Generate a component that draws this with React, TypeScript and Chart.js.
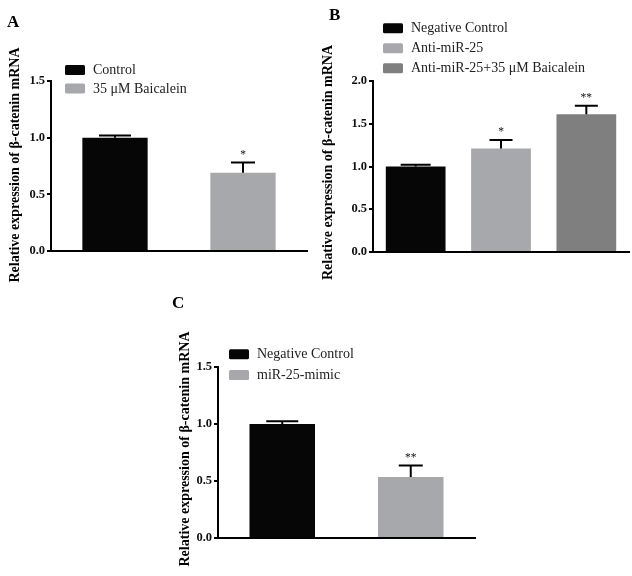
import React, { useEffect, useRef } from "react";
import { Chart, registerables } from "chart.js";
Chart.register(...registerables);

// ---------- data ----------
const panelALabels = ["Control", "35 μM Baicalein"];
const panelAValues = [1.0, 0.69];
const panelAErrors = [0.02, 0.09];
const panelAStars = ["", "*"];
const panelATicks = [0, 0.5, 1.0, 1.5];

const panelBLabels = ["Negative Control", "Anti-miR-25", "Anti-miR-25+35 μM Baicalein"];
const panelBValues = [1.0, 1.21, 1.61];
const panelBErrors = [0.02, 0.1, 0.1];
const panelBStars = ["", "*", "**"];
const panelBTicks = [0, 0.5, 1.0, 1.5, 2.0];

const panelCLabels = ["Negative Control", "miR-25-mimic"];
const panelCValues = [1.0, 0.535];
const panelCErrors = [0.025, 0.1];
const panelCStars = ["", "**"];
const panelCTicks = [0, 0.5, 1.0, 1.5];

const yAxisTitle = "Relative expression of β-catenin mRNA";

// ---------- style ----------
const BLACK = "#060606";
const LIGHT = "#A7A8AB";
const DARK = "#7F7F80";
const SERIF = "'Liberation Serif', 'Times New Roman', serif";

type Panel = {
  letter: string;
  labels: string[];
  values: number[];
  errors: number[];
  stars: string[];
  ticks: number[];
  colors: string[];
  capWidths: number[];
  box: { left: number; top: number; width: number; height: number };
  pad: { top: number; right: number; bottom: number };
  axisWidth: number;
  barPct: number;
  titleX: number;
  titleY: number;
  legendX: number;
  legendRows: number[];
  letterX: number;
  letterY: number;
};

const panels: Panel[] = [
  {
    letter: "A",
    labels: panelALabels,
    values: panelAValues,
    errors: panelAErrors,
    stars: panelAStars,
    ticks: panelATicks,
    colors: [BLACK, LIGHT],
    capWidths: [32, 24],
    box: { left: 0, top: 0, width: 316, height: 290 },
    pad: { top: 81, right: 9, bottom: 39 },
    axisWidth: 51,
    barPct: 0.51,
    titleX: 15,
    titleY: 165,
    legendX: 65,
    legendRows: [70, 88.5],
    letterX: 7,
    letterY: 27,
  },
  {
    letter: "B",
    labels: panelBLabels,
    values: panelBValues,
    errors: panelBErrors,
    stars: panelBStars,
    ticks: panelBTicks,
    colors: [BLACK, LIGHT, DARK],
    capWidths: [30, 23, 23],
    box: { left: 316, top: 0, width: 316, height: 290 },
    pad: { top: 81, right: 3, bottom: 38 },
    axisWidth: 57,
    barPct: 0.7,
    titleX: 12,
    titleY: 162.5,
    legendX: 67,
    legendRows: [28.3, 48.3, 68.3],
    letterX: 13,
    letterY: 20,
  },
  {
    letter: "C",
    labels: panelCLabels,
    values: panelCValues,
    errors: panelCErrors,
    stars: panelCStars,
    ticks: panelCTicks,
    colors: [BLACK, LIGHT],
    capWidths: [32, 24],
    box: { left: 150, top: 290, width: 330, height: 286 },
    pad: { top: 77, right: 5, bottom: 38 },
    axisWidth: 68,
    barPct: 0.51,
    titleX: 35,
    titleY: 159,
    legendX: 79,
    legendRows: [64.3, 85],
    letterX: 22,
    letterY: 18,
  },
];

function PanelChart({ p }: { p: Panel }) {
  const ref = useRef<HTMLCanvasElement | null>(null);
  useEffect(() => {
    if (!ref.current) return;
    const decor = {
      id: "decor" + p.letter,
      afterDatasetsDraw(chart: any) {
        const ctx = chart.ctx;
        const meta = chart.getDatasetMeta(0);
        const ys = chart.scales.y;
        ctx.save();
        meta.data.forEach((bar: any, i: number) => {
          const x = bar.x;
          const yTop = ys.getPixelForValue(p.values[i] + p.errors[i]);
          const yBar = bar.y;
          ctx.strokeStyle = "#000";
          ctx.lineWidth = 2;
          ctx.beginPath();
          ctx.moveTo(x, yBar);
          ctx.lineTo(x, yTop);
          ctx.moveTo(x - p.capWidths[i] / 2, yTop);
          ctx.lineTo(x + p.capWidths[i] / 2, yTop);
          ctx.stroke();
          if (p.stars[i]) {
            ctx.fillStyle = "#111";
            ctx.font = `11.5px ${SERIF}`;
            ctx.textAlign = "center";
            ctx.textBaseline = "middle";
            ctx.fillText(p.stars[i], x, yTop - 8);
          }
        });
        ctx.restore();
      },
      afterDraw(chart: any) {
        const ctx = chart.ctx;
        ctx.save();
        // panel letter
        ctx.fillStyle = "#000";
        ctx.font = `bold 17px ${SERIF}`;
        ctx.textAlign = "left";
        ctx.textBaseline = "alphabetic";
        ctx.fillText(p.letter, p.letterX, p.letterY);
        // y title
        ctx.save();
        ctx.translate(p.titleX, p.titleY);
        ctx.rotate(-Math.PI / 2);
        ctx.font = `bold 14px ${SERIF}`;
        ctx.textAlign = "center";
        ctx.textBaseline = "middle";
        ctx.fillText(yAxisTitle, 0, 0);
        ctx.restore();
        // legend
        p.labels.forEach((lab, i) => {
          const cy = p.legendRows[i];
          ctx.fillStyle = p.colors[i];
          ctx.beginPath();
          (ctx as any).roundRect
            ? (ctx as any).roundRect(p.legendX, cy - 5, 20, 10, 1.5)
            : ctx.rect(p.legendX, cy - 5, 20, 10);
          ctx.fill();
          ctx.fillStyle = "#222";
          ctx.font = `14px ${SERIF}`;
          ctx.textAlign = "left";
          ctx.textBaseline = "middle";
          ctx.fillText(lab, p.legendX + 28, cy + 0.5);
        });
        ctx.restore();
      },
    };
    const chart = new Chart(ref.current, {
      type: "bar",
      data: {
        labels: p.labels,
        datasets: [
          {
            data: p.values,
            backgroundColor: p.colors,
            borderWidth: 0,
            categoryPercentage: 1,
            barPercentage: p.barPct,
          },
        ],
      },
      options: {
        responsive: false,
        animation: false,
        events: [],
        layout: { padding: { top: p.pad.top, right: p.pad.right, bottom: p.pad.bottom, left: 0 } },
        plugins: { legend: { display: false }, tooltip: { enabled: false } },
        scales: {
          x: {
            ticks: { display: false },
            grid: { display: false },
            border: { display: true, color: "#000", width: 2 },
            afterFit: (s: any) => {
              s.height = 0;
            },
          },
          y: {
            min: p.ticks[0],
            max: p.ticks[p.ticks.length - 1],
            afterBuildTicks: (s: any) => {
              s.ticks = p.ticks.map((v) => ({ value: v }));
            },
            ticks: {
              color: "#111",
              padding: 2,
              font: { family: SERIF, size: 12.5, weight: "bold" },
              callback: (v: any) => Number(v).toFixed(1),
            },
            grid: { drawOnChartArea: false, drawTicks: true, tickLength: 4, color: "#000", lineWidth: 2 },
            border: { display: true, color: "#000", width: 2 },
            afterFit: (s: any) => {
              s.width = p.axisWidth;
            },
          },
        },
      },
      plugins: [decor],
    } as any);
    return () => chart.destroy();
  }, [p]);
  return (
    <canvas
      ref={ref}
      width={p.box.width}
      height={p.box.height}
      style={{
        position: "absolute",
        left: p.box.left,
        top: p.box.top,
        width: p.box.width,
        height: p.box.height,
      }}
    />
  );
}

export default function App() {
  return (
    <div
      style={{
        position: "absolute",
        left: 0,
        top: 0,
        width: 632,
        height: 576,
        background: "#fff",
        overflow: "hidden",
      }}
    >
      {panels.map((p) => (
        <PanelChart key={p.letter} p={p} />
      ))}
    </div>
  );
}
